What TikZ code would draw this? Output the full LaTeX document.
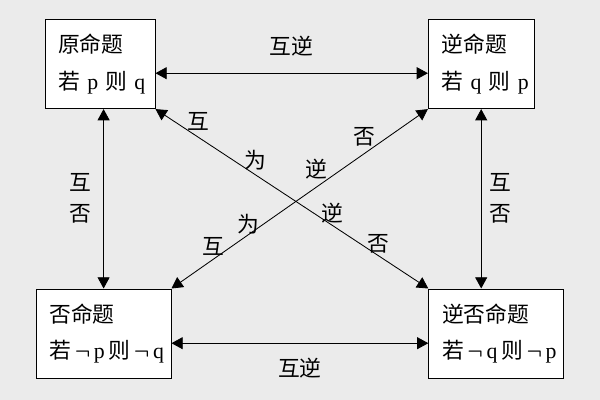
\documentclass[tikz,border=0pt]{standalone}
\usepackage{amsmath}
\usepackage{fontspec}
\setmainfont{Noto Sans CJK SC}
\newfontfamily\pqfont{Liberation Serif}
\usepackage{tikz}
\usetikzlibrary{arrows.meta}
\definecolor{bggray}{RGB}{235,235,235}
\newcommand{\pv}[1]{{\pqfont #1}}
\newcommand{\nv}{\,$\boldsymbol{\neg}$\,}

\begin{document}
\begin{tikzpicture}[>={Triangle[length=0.28cm, width=0.3cm]},
    font=\fontsize{15.5}{26}\selectfont,
    propbox/.style={draw, fill=white, line width=0.7pt, align=left,
                    inner xsep=0.33cm, text width=#1, minimum height=2.23cm},
    rel/.style={<->, line width=0.6pt},
    tag/.style={inner sep=0pt}]
  % fond
  \fill[bggray] (0,0) rectangle (15,-10);
  \useasboundingbox (0,0) rectangle (15,-10);
  % les quatre propositions
  \node[propbox=2.09cm] (orig) at (2.5,-1.6) {\mbox{原命题}\\\mbox{若 \pv{p} 则 \pv{q}}};
  \node[propbox=1.98cm] (conv) at (12.03,-1.6) {\mbox{逆命题}\\\mbox{若 \pv{q} 则 \pv{p}}};
  \node[propbox=2.71cm] (inv) at (2.59,-8.34) {\mbox{否命题}\\\mbox{若\nv\pv{p}\,则\nv\pv{q}}};
  \node[propbox=2.70cm] (contra) at (12.4,-8.34) {\mbox{逆否命题}\\\mbox{若\nv\pv{q}\,则\nv\pv{p}}};
  %互逆
  \draw[rel] ([yshift=-0.23cm]orig.east) -- ([yshift=-0.23cm]conv.west)
      node[tag, midway, above=0.42cm] (t1) {互逆};
  \draw[rel] ([yshift=-0.24cm]inv.east) -- ([yshift=-0.24cm]inv.east -| contra.west)
      node[tag, midway, below=0.36cm] (t2) {互逆};
  % 互否
  \draw[rel] (inv.north |- orig.south) -- (inv.north)
      node[tag, midway, left=0.3cm, align=center, font=\fontsize{15.5}{22}\selectfont] (t3) {互\\否};
  \draw[rel] (conv.south) -- (conv.south |- contra.north)
      node[tag, midway, right=0.2cm, align=center, font=\fontsize{15.5}{22}\selectfont] (t4) {互\\否};
  % 互为逆否
  \draw[rel] (orig.south east) -- (contra.north west)
      node[tag, pos=0.157, above=0.15cm] (d1) {互}
      node[tag, pos=0.365, above=0.11cm] (d2) {为}
      node[tag, pos=0.649, above=0.05cm] (d3) {逆}
      node[tag, pos=0.817, above=0.05cm] (d4) {否};
  \draw[rel] (inv.north east) -- (conv.south west)
      node[tag, pos=0.163, above=0.09cm] (e1) {互}
      node[tag, pos=0.299, above=0cm] (e2) {为}
      node[tag, pos=0.567, above=0.18cm] (e3) {逆}
      node[tag, pos=0.753, above=0.16cm] (e4) {否};
\end{tikzpicture}
\end{document}
